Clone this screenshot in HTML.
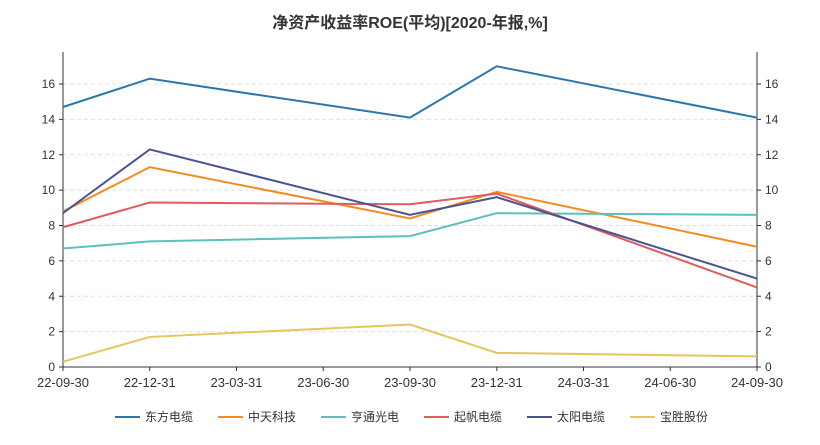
<!DOCTYPE html>
<html><head><meta charset="utf-8">
<style>
body{margin:0;background:#fff;width:820px;height:440px;overflow:hidden;font-family:"Liberation Sans","Noto Sans CJK SC",sans-serif;}
</style></head>
<body>
<svg id="chart" width="820" height="440" xmlns="http://www.w3.org/2000/svg" font-family="Liberation Sans, Noto Sans CJK SC, sans-serif">
<text x="410" y="28" text-anchor="middle" font-size="16" font-weight="bold" fill="#333">净资产收益率ROE(平均)[2020-年报,%]</text>
<g id="grid"></g><g id="axes"></g><g id="series"></g><g id="legend"></g>
</svg>
<script>
const xLabels=["22-09-30","22-12-31","23-03-31","23-06-30","23-09-30","23-12-31","24-03-31","24-06-30","24-09-30"];
const pointIdx=[0,1,4,5,8];
const yTicks=[0,2,4,6,8,10,12,14,16];
const seriesNames=["东方电缆","中天科技","亨通光电","起帆电缆","太阳电缆","宝胜股份"];
const dongfang=[14.7,16.3,14.1,17.0,14.1];
const zhongtian=[8.8,11.3,8.4,9.9,6.8];
const hengtong=[6.7,7.1,7.4,8.7,8.6];
const qifan=[7.9,9.3,9.2,9.8,4.5];
const taiyang=[8.7,12.3,8.6,9.6,5.0];
const baosheng=[0.3,1.7,2.4,0.8,0.6];
const seriesData=[dongfang,zhongtian,hengtong,qifan,taiyang,baosheng];
const colors=["#2a77ad","#f58a1f","#5cc0bd","#e05b5b","#4a5391","#e8c55a"];
const NS="http://www.w3.org/2000/svg";
const x0=63,x1=757,y0=367,yTop=52;
const xs=i=>x0+(x1-x0)*i/(xLabels.length-1);
const ys=v=>y0-v*(y0-84)/16;
function mk(t,a,p){const e=document.createElementNS(NS,t);for(const k in a)e.setAttribute(k,a[k]);p.appendChild(e);return e;}
const grid=document.getElementById('grid'),axes=document.getElementById('axes'),ser=document.getElementById('series'),leg=document.getElementById('legend');
yTicks.forEach(v=>{
 const y=ys(v);
 if(v>0){const g=mk('line',{x1:x0,x2:x1,y1:y,y2:y,stroke:'#e0e0e0','stroke-dasharray':'4,3'},grid);
 
 }
 const l=mk('text',{x:x0-8,y:y+4,'text-anchor':'end','font-size':12,fill:'#333'},axes);l.textContent=v;
 
 
 const r=mk('text',{x:x1+8,y:y+4,'text-anchor':'start','font-size':12,fill:'#333'},axes);r.textContent=v;
 
 
 mk('line',{x1:x0-4,x2:x0,y1:y,y2:y,stroke:'#333'},axes);
 mk('line',{x1:x1,x2:x1+4,y1:y,y2:y,stroke:'#333'},axes);
});
mk('line',{x1:x0,x2:x0,y1:yTop,y2:y0,stroke:'#333'},axes);
mk('line',{x1:x1,x2:x1,y1:yTop,y2:y0,stroke:'#333'},axes);
mk('line',{x1:x0,x2:x1,y1:y0,y2:y0,stroke:'#333'},axes);
xLabels.forEach((s,i)=>{
 mk('line',{x1:xs(i),x2:xs(i),y1:y0,y2:y0+4,stroke:'#333'},axes);
 const t=mk('text',{x:xs(i),y:y0+20,'text-anchor':'middle','font-size':13,fill:'#333'},axes);t.textContent=s;
 
 
});
seriesData.forEach((d,k)=>{
 const pts=d.map((v,j)=>xs(pointIdx[j])+','+ys(v)).join(' ');
 const p=mk('polyline',{points:pts,fill:'none',stroke:colors[k],'stroke-width':2},ser);
 
 
 const lx=115+k*103;
 const g=mk('g',{},leg);
 
 
 mk('line',{x1:lx,x2:lx+25,y1:417,y2:417,stroke:colors[k],'stroke-width':2},g);
 const t=mk('text',{x:lx+30,y:421,'font-size':12,fill:'#333'},g);t.textContent=seriesNames[k];
});
</script>
</body></html>
